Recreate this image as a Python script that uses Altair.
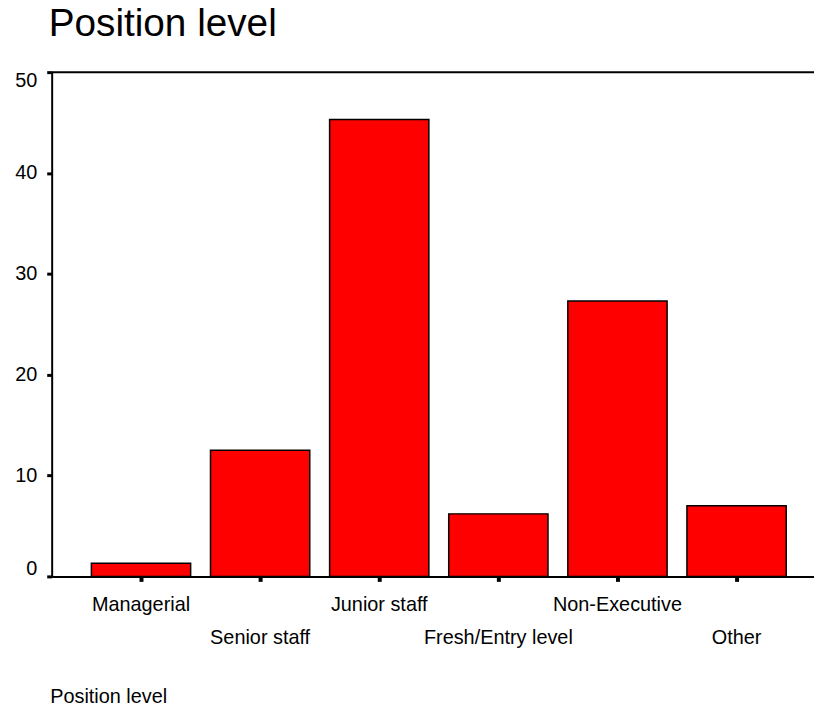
import altair as alt
import pandas as pd

categories = ["Managerial", "Senior staff", "Junior staff", "Fresh/Entry level", "Non-Executive", "Other"]
percents = [1.3, 12.5, 45.3, 6.2, 27.3, 7.0]
y_ticks = [0, 10, 20, 30, 40, 50]
lower_row = ["Senior staff", "Fresh/Entry level", "Other"]

df = pd.DataFrame({"level": categories, "pct": percents})

FONT = "Liberation Sans"

lower_expr = "[" + ", ".join("'" + s + "'" for s in lower_row) + "]"

x_scale = alt.Scale(domain=categories, range=[0, 780], paddingInner=1 / 6, paddingOuter=1 / 3)

bars = alt.Chart(df).mark_bar(color="#ff0000", stroke="#000000", strokeWidth=1.5).encode(
    x=alt.X(
        "level:N",
        sort=categories,
        scale=x_scale,
        axis=alt.Axis(
            title="Position level",
            labelAngle=0,
            labelExpr="indexof(" + lower_expr + ", datum.value) >= 0 ? ['', datum.label] : datum.label",
            labelFont=FONT,
            labelFontSize=20,
            labelColor="black",
            labelBaseline="top",
            labelLineHeight=34,
            labelPadding=13,
            labelOverlap=False,
            labelBound=False,
            labelFlush=False,
            tickSize=5,
            tickWidth=4,
            tickColor="black",
            domainColor="black",
            domainWidth=2,
            titleFont=FONT,
            titleFontSize=20,
            titleFontWeight="normal",
            titleColor="black",
            titleAlign="left",
            titleAnchor="start",
            titleBaseline="alphabetic",
            titleX=-2,
            titleY=127,
        ),
    ),
    y=alt.Y(
        "pct:Q",
        scale=alt.Scale(domain=[0, 50], nice=False),
        axis=alt.Axis(
            values=y_ticks,
            title=None,
            grid=False,
            labelFont=FONT,
            labelFontSize=20,
            labelColor="black",
            labelPadding=10,
            labelFlush=True,
            labelFlushOffset=2,
            tickSize=5,
            tickWidth=3,
            tickColor="black",
            domainColor="black",
            domainWidth=2,
        ),
    ),
)

top_line = alt.Chart(pd.DataFrame({"k": [0]})).mark_rule(color="black", strokeWidth=2).encode(
    y=alt.value(0), x=alt.value(0), x2=alt.value(780)
)

chart = (
    alt.layer(bars, top_line)
    .properties(
        width=768,
        height=508,
        autosize=alt.AutoSizeParams(type="none"),
        padding={"left": 44, "top": 62, "right": 0, "bottom": 136},
        title=alt.Title(
            "Position level",
            anchor="start",
            frame="group",
            fontSize=39,
            font=FONT,
            fontWeight="normal",
            color="black",
            baseline="alphabetic",
            offset=33,
            dx=-3,
            dy=38,
        ),
    )
    .configure_view(stroke=None)
)

chart.save("out.html", embed_options={"renderer": "svg", "actions": False})
